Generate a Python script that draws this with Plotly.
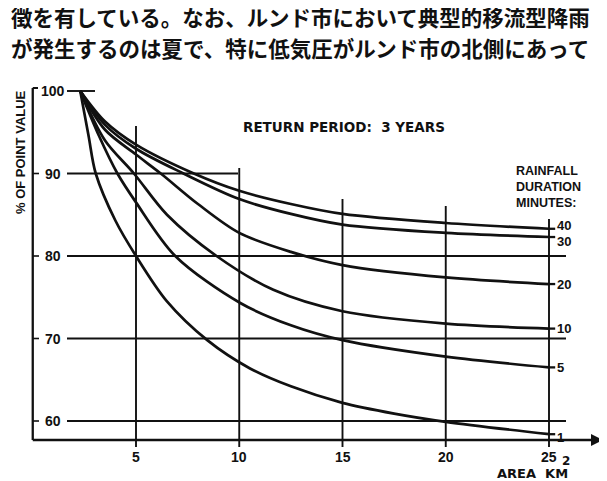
import plotly.graph_objects as go

# ---------------- data ----------------
durations = ["40", "30", "20", "10", "5", "1"]

area_40 = [2.3, 3.5, 5, 7.8, 10, 12.5, 15, 20, 25]
pct_40 = [100, 96.3, 93.5, 90, 87.9, 86.3, 85.1, 84.0, 83.3]

area_30 = [2.3, 3.5, 5, 7.3, 10, 12.5, 15, 20, 25]
pct_30 = [100, 95.9, 93.0, 90, 86.9, 85.1, 83.8, 82.8, 82.3]

area_20 = [2.3, 3.5, 5, 6.2, 8, 10, 12.5, 15, 20, 25]
pct_20 = [100, 95.3, 92.3, 90, 86.3, 82.8, 80.5, 78.9, 77.4, 76.6]

area_10 = [2.3, 3.5, 4.9, 6.5, 8.9, 11.65, 15, 20, 25]
pct_10 = [100, 94.0, 90, 85.0, 80, 75.9, 73.3, 71.8, 71.2]

area_5 = [2.3, 3.2, 4.1, 5, 6.9, 10.05, 12.5, 15, 20, 25]
pct_5 = [100, 94.6, 90, 86.5, 80, 74.3, 71.6, 69.8, 67.8, 66.5]

area_1 = [2.3, 2.7, 3.05, 4, 5, 6.5, 8.45, 10.5, 12.5, 15, 17.5, 20, 25]
pct_1 = [100, 94.6, 90, 84.3, 80, 74.5, 69.8, 66.4, 64.2, 62.2, 60.9, 59.9, 58.4]

x_ticks = [5, 10, 15, 20, 25]
y_ticks = [100, 90, 80, 70, 60]

curves = [(area_40, pct_40), (area_30, pct_30), (area_20, pct_20),
          (area_10, pct_10), (area_5, pct_5), (area_1, pct_1)]

# ---------------- geometry (screen pixels; page body has an 8 px margin) ----------------
W, H = 607, 481
OFF = 8
PX_X = 20.65      # px per km2
X0_PX = 32.75     # screen pixel of area 0
PX_Y = 8.25       # px per %
Y100_PX = 91.0    # screen pixel of 100 %

def xv(px):
    return (px - X0_PX) / PX_X

def yv(py):
    return 100 - (py - Y100_PX) / PX_Y

x_rng = [xv(OFF), xv(W + OFF)]
y_rng = [yv(H + OFF), yv(OFF)]
y_axis = yv(440)
y_below = yv(447)

BLACK = "#111111"
FONT = "Liberation Sans"
WIDE = "DejaVu Sans"

fig = go.Figure()
for (a, p), d in zip(curves, durations):
    fig.add_trace(go.Scatter(x=a, y=p, mode="lines", name=d,
                             line=dict(color=BLACK, width=2.7, shape="spline", smoothing=0.9),
                             hoverinfo="skip", showlegend=False))

shapes = []
def seg(x0, y0, x1, y1, w=1.9):
    shapes.append(dict(type="line", xref="x", yref="y", x0=x0, y0=y0, x1=x1, y1=y1,
                       line=dict(color=BLACK, width=w), layer="below"))

# axes
seg(0, y_axis, 0, yv(88), 2.3)
seg(0, yv(88), xv(38), yv(88), 2.0)
seg(0, y_axis, xv(596), y_axis, 2.3)
# horizontal reference lines
seg(xv(67), 100, xv(95), 100)
seg(xv(67), 90, xv(238), 90)
for yy in [80, 70, 60]:
    seg(xv(67), yy, xv(566), yy)
for yy in y_ticks[1:]:
    seg(0, yy, xv(39), yy, 1.6)
# vertical lines
v_tops = {5: yv(126), 10: yv(168), 15: yv(199), 20: yv(206), 25: yv(219)}
for xx in x_ticks:
    seg(xx, y_below, xx, v_tops[xx])
# short leaders to the curve labels
for a, p in curves:
    seg(a[-1], p[-1], a[-1] + 0.3, p[-1], 2.3)

annotations = []
# arrow head of x axis
annotations.append(dict(x=xv(603), y=y_axis, xref="x", yref="y", ax=-14, ay=0,
                        showarrow=True, arrowhead=2, arrowsize=1.2,
                        arrowwidth=2, arrowcolor=BLACK, text=" "))

tick_font = dict(family=FONT, size=14, color=BLACK)
for yy in y_ticks:
    annotations.append(dict(x=xv(53), y=yy, xref="x", yref="y", text="<b>%d</b>" % yy,
                            showarrow=False, font=tick_font, xanchor="center", yanchor="middle"))
for xx in x_ticks:
    annotations.append(dict(x=xx, y=yv(457), xref="x", yref="y", text="<b>%d</b>" % xx,
                            showarrow=False, font=tick_font, xanchor="center", yanchor="middle"))

# curve labels
label_shift = {"40": 3, "30": -4, "20": 0, "10": 0, "5": 0, "1": -3}
for (a, p), d in zip(curves, durations):
    annotations.append(dict(x=a[-1] + 0.3, y=p[-1], xref="x", yref="y", text="<b>%s</b>" % d,
                            showarrow=False, font=dict(family=FONT, size=13, color=BLACK),
                            xanchor="left", yanchor="middle", yshift=label_shift[d]))

annotations.append(dict(x=xv(570), y=yv(473), xref="x", yref="y", text="<b>AREA  KM</b>",
                        showarrow=False, font=dict(family=WIDE, size=13, color=BLACK),
                        xanchor="right", yanchor="middle"))
annotations.append(dict(x=xv(560), y=yv(461), xref="x", yref="y", text="<b>2</b>",
                        showarrow=False, font=dict(family=WIDE, size=12, color=BLACK),
                        xanchor="left", yanchor="middle"))
annotations.append(dict(x=xv(344), y=yv(127), xref="x", yref="y", text="<b>RETURN PERIOD:  3 YEARS</b>",
                        showarrow=False, font=dict(family=WIDE, size=13.5, color=BLACK),
                        xanchor="center", yanchor="middle"))
for txt, py in [("RAINFALL", 171), ("DURATION", 187), ("MINUTES:", 203)]:
    annotations.append(dict(x=xv(514), y=yv(py), xref="x", yref="y", text="<b>%s</b>" % txt,
                            showarrow=False, font=dict(family=FONT, size=12.5, color=BLACK),
                            xanchor="left", yanchor="middle"))
annotations.append(dict(x=xv(20), y=yv(152), xref="x", yref="y",
                        text="<b>% OF POINT VALUE</b>", textangle=-90, showarrow=False,
                        font=dict(family=FONT, size=13, color=BLACK),
                        xanchor="center", yanchor="middle"))

jp_font = dict(family="Noto Sans CJK JP", size=21.5, color=BLACK)
annotations.append(dict(x=xv(8.5), y=yv(16), xref="x", yref="y",
                        text="<b>徴を有している。なお、ルンド市において典型的移流型降雨</b>",
                        showarrow=False, font=jp_font, xanchor="left", yanchor="middle"))
annotations.append(dict(x=xv(8.5), y=yv(47), xref="x", yref="y",
                        text="<b>が発生するのは夏で、特に低気圧がルンド市の北側にあって</b>",
                        showarrow=False, font=jp_font, xanchor="left", yanchor="middle"))

fig.update_layout(
    width=W, height=H,
    margin=dict(l=0, r=0, t=0, b=0, pad=0),
    paper_bgcolor="white", plot_bgcolor="white",
    xaxis=dict(range=x_rng, visible=False, fixedrange=True),
    yaxis=dict(range=y_rng, visible=False, fixedrange=True),
    shapes=shapes, annotations=annotations,
    showlegend=False,
)

fig.write_html("out.html")
